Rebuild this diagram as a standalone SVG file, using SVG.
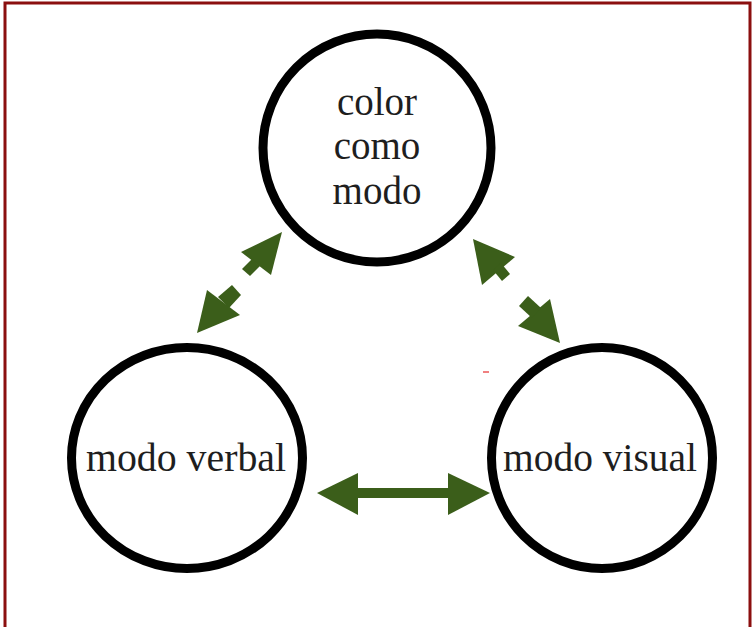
<svg xmlns="http://www.w3.org/2000/svg" width="753" height="627" viewBox="0 0 753 627">
<style>
.node{fill:#fff;stroke:#000;stroke-width:9}
.lbl{font-family:"Liberation Serif","Times New Roman",serif;font-size:39px;fill:#1e1e1e;text-anchor:middle}
.arr{fill:#3b5e1a}
</style>
<rect width="753" height="627" fill="#fff"/>
<g id="border" fill="none" stroke="#8b0f0f" stroke-width="3">
<path d="M5,627 V3 H750 V627"/>
</g>
<g id="connectors" class="arr">
<polygon points="282,232 241,252 271,275"/>
<polygon points="252,259 260,266 250,276 242,269"/>
<polygon points="197,333 207,290 240,315"/>
<polygon points="218,297 229,308 241,295 232,285"/>
<polygon points="473,239 515,257 482,285"/>
<polygon points="493,270 501,263 510,274 502,281"/>
<polygon points="560,343 550,299 518,326"/>
<polygon points="519,306 528,296 541,308 532,318"/>
<polygon points="317,493 358,473 358,515"/>
<rect x="356" y="488" width="94" height="10"/>
<polygon points="490,493 448,473 448,515"/>
</g>
<g id="n-top">
<circle class="node" cx="377" cy="148" r="114"/>
<text class="lbl" x="377" y="115">color</text>
<text class="lbl" x="377" y="159">como</text>
<text class="lbl" x="377" y="204">modo</text>
</g>
<g id="n-verbal">
<ellipse class="node" cx="187" cy="458" rx="115.5" ry="110.5"/>
<text class="lbl" x="186" y="471" textLength="200" lengthAdjust="spacingAndGlyphs">modo verbal</text>
</g>
<g id="n-visual">
<ellipse class="node" cx="602" cy="458" rx="110.5" ry="110.5"/>
<text class="lbl" x="600" y="471" textLength="194" lengthAdjust="spacingAndGlyphs">modo visual</text>
</g>
<rect x="483" y="371" width="6" height="2" fill="#f08080"/>
</svg>
